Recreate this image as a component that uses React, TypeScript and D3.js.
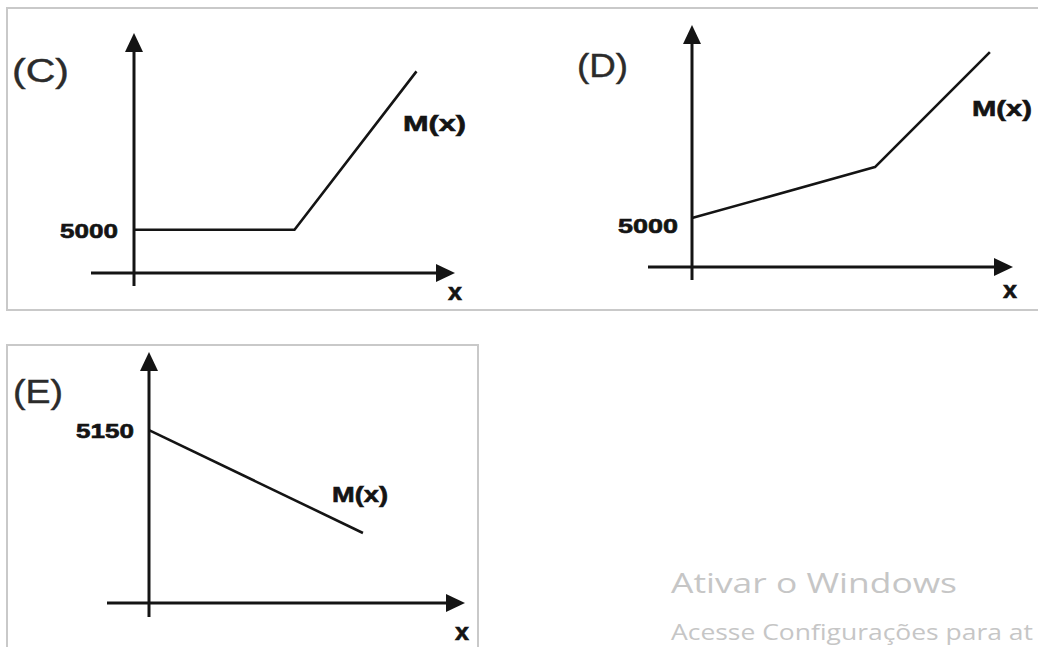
import React from "react";
import * as d3 from "d3";

// ---- data (abstract units on each panel's own axes) ----
const panelNames = ["(C)", "(D)", "(E)"];
const seriesName = "M(x)";
const axisName = "x";

const cX = [0, 5.0, 8.8];
const cY = [1.8, 1.8, 8.4];
const cTickValue = 1.8;
const cTickLabel = "5000";

const dX = [0, 5.7, 9.28];
const dY = [2.02, 4.13, 8.88];
const dTickValue = 2.02;
const dTickLabel = "5000";

const eX = [0, 6.77];
const eY = [6.89, 2.79];
const eTickValue = 6.89;
const eTickLabel = "5150";

const watermark1 = "Ativar o Windows";
const watermark2 = "Acesse Configurações para at";

// ---- layout ----
type Layout = {
  ox: number; oy: number; xEnd: number; yEnd: number;
  xStart: number; yStart: number;
  tickRight: number; tickW: number; tickDy: number;
  mx: number; my: number; mw: number;
  lx: number; ly: number;
  px: number; py: number; pw: number;
};

const layouts: Layout[] = [
  { ox: 134, oy: 273, xEnd: 455, yEnd: 33, xStart: 91, yStart: 286,
    tickRight: 118, tickW: 58, tickDy: 3,
    mx: 403, my: 131, mw: 63, lx: 448, ly: 300, px: 12, py: 82, pw: 57 },
  { ox: 692, oy: 267, xEnd: 1013, yEnd: 25, xStart: 648, yStart: 280,
    tickRight: 678, tickW: 60, tickDy: 10,
    mx: 972, my: 116, mw: 60, lx: 1003, ly: 298, px: 577, py: 77, pw: 51 },
  { ox: 149, oy: 603, xEnd: 465, yEnd: 352, xStart: 107, yStart: 617,
    tickRight: 134, tickW: 58, tickDy: 3,
    mx: 332, my: 502, mw: 56, lx: 455, ly: 640, px: 13, py: 403, pw: 50 },
];

const panels = [
  { xs: cX, ys: cY, tv: cTickValue, tl: cTickLabel },
  { xs: dX, ys: dY, tv: dTickValue, tl: dTickLabel },
  { xs: eX, ys: eY, tv: eTickValue, tl: eTickLabel },
];

const INK = "#141414";
const BOLD = "'Liberation Sans', Arial, sans-serif";

function Panel({ idx }: { idx: number }) {
  const L = layouts[idx];
  const P = panels[idx];
  const x = d3.scaleLinear().domain([0, 10]).range([L.ox, L.xEnd]);
  const y = d3.scaleLinear().domain([0, 10]).range([L.oy, L.yEnd]);
  const pts: [number, number][] = P.xs.map((v, i) => [v, P.ys[i]]);
  const line = d3
    .line<[number, number]>()
    .x((d) => x(d[0]))
    .y((d) => y(d[1]));
  const aL = 19;
  const aW = 9;
  const tipX = x(10);
  const tipY = y(10);
  return (
    <g>
      {/* x axis */}
      <line x1={L.xStart} y1={L.oy} x2={tipX - aL + 2} y2={L.oy} stroke={INK} strokeWidth={3} />
      <path d={`M${tipX},${L.oy} L${tipX - aL},${L.oy - aW} L${tipX - aL},${L.oy + aW} Z`} fill={INK} />
      {/* y axis */}
      <line x1={L.ox} y1={L.yStart} x2={L.ox} y2={tipY + aL - 2} stroke={INK} strokeWidth={3} />
      <path d={`M${L.ox},${tipY} L${L.ox - aW},${tipY + aL} L${L.ox + aW},${tipY + aL} Z`} fill={INK} />
      {/* series */}
      <path d={line(pts) || ""} fill="none" stroke={INK} strokeWidth={2.6} strokeLinejoin="round" />
      {/* tick label */}
      <text
        x={L.tickRight - L.tickW}
        y={y(P.tv) + L.tickDy + 5}
        fontFamily={BOLD}
        fontWeight="bold"
        fontSize={21}
        fill={INK}
        stroke={INK}
        strokeWidth={0.6}
        textLength={L.tickW}
        lengthAdjust="spacingAndGlyphs"
      >
        {P.tl}
      </text>
      {/* series label */}
      <text x={L.mx} y={L.my} fontFamily={BOLD} fontWeight="bold" fontSize={22} fill={INK}
        stroke={INK} strokeWidth={0.6}
        textLength={L.mw} lengthAdjust="spacingAndGlyphs">
        {seriesName}
      </text>
      {/* axis label */}
      <text x={L.lx} y={L.ly} fontFamily={BOLD} fontWeight="bold" fontSize={23} fill={INK}
        stroke={INK} strokeWidth={0.6}
        textLength={14} lengthAdjust="spacingAndGlyphs">
        {axisName}
      </text>
      {/* panel name */}
      <text x={L.px} y={L.py} fontFamily={BOLD} fontSize={33} fill="#2b2b2b"
        stroke="#2b2b2b" strokeWidth={0.4}
        textLength={L.pw} lengthAdjust="spacingAndGlyphs">
        {panelNames[idx]}
      </text>
    </g>
  );
}

export default function App() {
  return (
    <svg
      width={1038}
      height={647}
      style={{ position: "absolute", left: 0, top: 0, display: "block", background: "#fff" }}
    >
      <rect x={0} y={0} width={1038} height={647} fill="#fff" />
      {/* frames */}
      <rect x={7} y={8} width={1100} height={302} fill="none" stroke="#c9c9c9" strokeWidth={2} />
      <rect x={7} y={345} width={471} height={400} fill="none" stroke="#c9c9c9" strokeWidth={2} />
      {[0, 1, 2].map((i) => (
        <Panel key={i} idx={i} />
      ))}
      <text x={671} y={593} fontFamily="'Open Sans', 'Noto Sans', sans-serif" fontSize={28}
        fill="#c6c6c6" textLength={286} lengthAdjust="spacingAndGlyphs">
        {watermark1}
      </text>
      <text x={671} y={640} fontFamily="'Open Sans', 'Noto Sans', sans-serif" fontSize={21}
        fill="#c6c6c6" textLength={362} lengthAdjust="spacingAndGlyphs">
        {watermark2}
      </text>
    </svg>
  );
}
